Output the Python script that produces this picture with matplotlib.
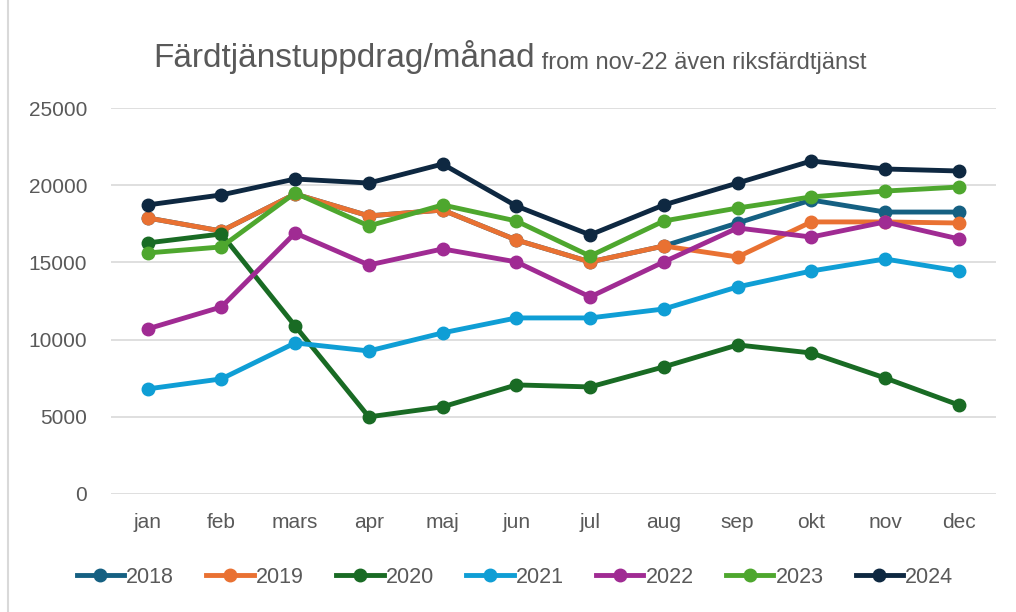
import matplotlib.pyplot as plt
from matplotlib.lines import Line2D
import numpy as np

months = ["jan", "feb", "mars", "apr", "maj", "jun", "jul", "aug", "sep", "okt", "nov", "dec"]

y2018 = [17880, 17030, 19430, 18010, 18390, 16450, 15030, 16060, 17550, 19040, 18260, 18260]
y2019 = [17880, 17030, 19430, 18010, 18390, 16450, 15030, 16060, 15350, 17620, 17620, 17550]
y2020 = [16260, 16840, 10880, 4990, 5640, 7060, 6930, 8230, 9650, 9130, 7510, 5760]
y2021 = [6800, 7450, 9780, 9260, 10430, 11400, 11400, 11980, 13410, 14440, 15220, 14440]
y2022 = [10690, 12110, 16900, 14830, 15870, 15030, 12760, 15030, 17230, 16640, 17620, 16520]
y2023 = [15610, 16000, 19500, 17360, 18720, 17680, 15410, 17680, 18520, 19240, 19620, 19880]
y2024 = [18720, 19370, 20400, 20140, 21370, 18650, 16780, 18720, 20140, 21570, 21050, 20920]

years = ["2018", "2019", "2020", "2021", "2022", "2023", "2024"]
series = [y2018, y2019, y2020, y2021, y2022, y2023, y2024]
colors = ["#156082", "#E97132", "#196B24", "#0F9ED5", "#A02B93", "#4EA72E", "#0E2841"]

plt.rcParams['font.family'] = ['Liberation Sans', 'DejaVu Sans']
grey = "#595959"

fig = plt.figure(figsize=(10.16, 6.12), dpi=100)
ax = fig.add_axes([0.109, 0.193, 0.871, 0.6305])

x = np.arange(len(months))
for name, vals, c in zip(years, series, colors):
    ax.plot(x, vals, color=c, lw=3.5, marker="o", markersize=9, label=name)

ax.set_xlim(-0.5, 11.5)
ax.set_ylim(0, 25000)
ax.set_yticks(range(0, 25001, 5000))
ax.set_xticks(x)
ax.set_xticklabels(months)
ax.tick_params(length=0, labelsize=15, labelcolor=grey)
ax.tick_params(axis="x", pad=14)
ax.tick_params(axis="y", pad=17)
ax.grid(axis="y", color="#D9D9D9", lw=1.2)
ax.set_axisbelow(True)
for s in ax.spines.values():
    s.set_visible(False)

t1 = fig.text(0.151, 0.89, "Färdtjänstuppdrag/månad", fontsize=24, color=grey,
              ha="left", va="baseline")
fig.canvas.draw()
ax.annotate(" from nov-22 även riksfärdtjänst", xy=(1, 0), xycoords=t1,
            fontsize=17, color=grey, ha="left", va="bottom")

fig.legend(loc="center", bbox_to_anchor=(0.507, 0.057), ncol=7, frameon=False,
           fontsize=15.5, handlelength=2.2, handletextpad=0.1, columnspacing=1.5,
           labelcolor=grey)

fig.add_artist(Line2D([0.008, 0.008], [0, 1], transform=fig.transFigure,
                      color="#D9D9D9", lw=1.5))

fig.savefig("out.png", dpi=100)
